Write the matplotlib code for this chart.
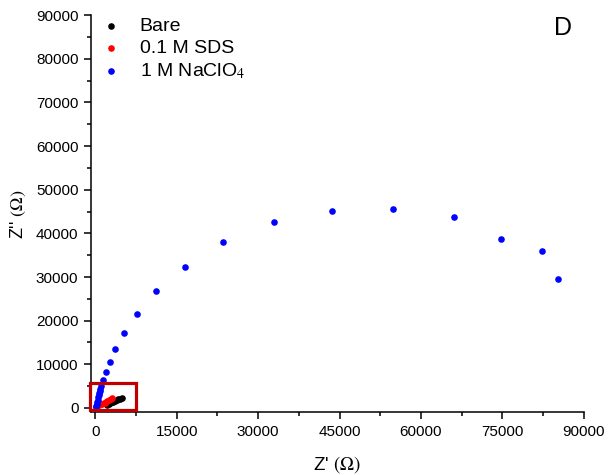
import matplotlib
matplotlib.use("Agg")
import matplotlib.pyplot as plt
from matplotlib.patches import Rectangle
from matplotlib.ticker import MultipleLocator

plt.rcParams["font.family"] = ["Liberation Sans", "DejaVu Sans"]
plt.rcParams["mathtext.fontset"] = "stix"

# Nyquist data, Z' and Z'' in ohm
bare_zre = [2150, 2450, 2750, 3050, 3350, 3650, 3950, 4250, 4550, 4900]
bare_zim = [750, 920, 1100, 1280, 1450, 1620, 1800, 1980, 2150, 2350]

sds_zre = [680, 950, 1250, 1550, 1800, 1970, 2250, 2550, 2850, 3100]
sds_zim = [750, 880, 1000, 1120, 1230, 1300, 1550, 1800, 2050, 2250]

naclo4_zre = [120, 220, 320, 400, 480, 560, 640, 720, 800, 900, 1050,
              1420, 1910, 2650, 3690, 5290, 7690, 11250, 16500, 23600,
              32900, 43700, 54900, 66100, 74800, 82300, 85200]
naclo4_zim = [150, 500, 900, 1400, 1900, 2400, 2900, 3400, 3900, 4400, 4950,
              6500, 8300, 10600, 13600, 17200, 21600, 26900, 32300, 38000,
              42600, 45200, 45600, 43700, 38800, 35900, 29600]

fig = plt.figure(figsize=(6.1, 4.75), dpi=100)
ax = fig.add_axes([0.149, 0.132, 0.808, 0.836])

ax.scatter(bare_zre, bare_zim, s=14, color="black", label="Bare", zorder=3)
ax.scatter(sds_zre, sds_zim, s=14, color="red", label="0.1 M SDS", zorder=3)
ax.scatter(naclo4_zre, naclo4_zim, s=14, color="blue",
           label="1 M NaClO$_4$", zorder=3)

# zoom-in marker around the low-impedance region
ax.add_patch(Rectangle((-1000, -500), 8600, 6300, fill=False,
                       edgecolor="#C00000", linewidth=2.3, zorder=4,
                       clip_on=False))

ax.set_xlim(-800, 90000)
ax.set_ylim(-1000, 90000)
ax.xaxis.set_major_locator(MultipleLocator(15000))
ax.xaxis.set_minor_locator(MultipleLocator(7500))
ax.yaxis.set_major_locator(MultipleLocator(10000))
ax.yaxis.set_minor_locator(MultipleLocator(5000))

for side in ["top", "right"]:
    ax.spines[side].set_visible(False)
for side in ["left", "bottom"]:
    ax.spines[side].set_linewidth(1.1)

ax.tick_params(which="major", direction="out", length=5, width=1.1,
               labelsize=11, pad=4)
ax.tick_params(which="minor", direction="out", length=3, width=1.1)

ax.set_xlabel("Z' $(\\Omega)$", fontsize=13.5, labelpad=11)
ax.set_ylabel("Z'' $(\\Omega)$", fontsize=13, labelpad=6)

ax.legend(loc="upper left", bbox_to_anchor=(-0.027, 1.029), frameon=False,
          fontsize=14, handletextpad=0.5, borderaxespad=0.3,
          labelspacing=0.22, markerscale=1.0, scatterpoints=1)

ax.text(0.958, 0.967, "D", transform=ax.transAxes, fontsize=18,
        ha="center", va="center")

fig.savefig("out.png", dpi=100)
